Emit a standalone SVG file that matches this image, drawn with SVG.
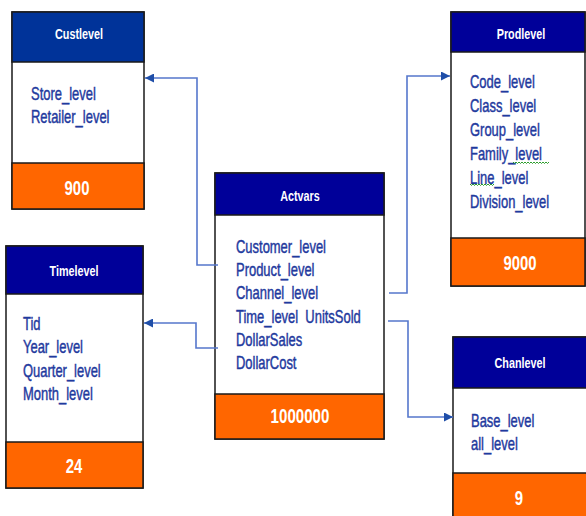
<svg xmlns="http://www.w3.org/2000/svg" width="586" height="516" viewBox="0 0 586 516">
<style>
.box{fill:#ffffff;stroke:#1a1a1a;stroke-width:1.5}
.hdr{fill:#000099;stroke:#1a1a1a;stroke-width:1.5}
.ftr{fill:#ff6600;stroke:#1a1a1a;stroke-width:1.5}
.title{font-family:"Liberation Sans",Arial,sans-serif;font-size:15px;font-weight:bold;fill:#ffffff;text-anchor:middle}
.num{font-family:"Liberation Sans",Arial,sans-serif;font-size:21px;font-weight:bold;fill:#ffffff;text-anchor:middle}
.item{font-family:"Liberation Sans",Arial,sans-serif;font-size:18px;fill:#1f3a9e;stroke:#1f3a9e;stroke-width:0.45;white-space:pre}
.conn{fill:none;stroke:#5577cc;stroke-width:1.6}
.sq{fill:none;stroke:#2e9e2e;stroke-width:1}
</style>
<defs>
<marker id="arr" viewBox="0 0 10 10" refX="10" refY="5" markerWidth="9" markerHeight="9" markerUnits="userSpaceOnUse" orient="auto">
<path d="M0,0 L10,5 L0,10 z" fill="#1f4ea8"/>
</marker>
</defs>
<rect width="586" height="516" fill="#ffffff"/>

<g id="custlevel">
<rect class="box" x="12" y="12" width="132" height="197"/>
<rect class="hdr" x="12" y="12" width="132" height="50" style="fill:#003399"/>
<rect class="ftr" x="12" y="163" width="132" height="46"/>
<text class="title" transform="translate(79,39) scale(0.72,1)">Custlevel</text>
<g transform="translate(31,0) scale(0.72,1)">
<text class="item" y="100">Store_level</text>
<text class="item" y="123">Retailer_level</text>
</g>
<text class="num" transform="translate(77,195) scale(0.71,1)">900</text>
</g>

<g id="timelevel">
<rect class="box" x="6" y="246" width="137" height="242"/>
<rect class="hdr" x="6" y="246" width="137" height="48"/>
<rect class="ftr" x="6" y="442" width="137" height="46"/>
<text class="title" transform="translate(74,276) scale(0.72,1)">Timelevel</text>
<g transform="translate(23,0) scale(0.72,1)">
<text class="item" y="330">Tid</text>
<text class="item" y="353">Year_level</text>
<text class="item" y="377">Quarter_level</text>
<text class="item" y="400">Month_level</text>
</g>
<text class="num" transform="translate(74,473) scale(0.71,1)">24</text>
</g>

<g id="actvars">
<rect class="box" x="215" y="173" width="169" height="266"/>
<rect class="hdr" x="215" y="173" width="169" height="42"/>
<rect class="ftr" x="215" y="394" width="169" height="45"/>
<text class="title" transform="translate(300,201) scale(0.72,1)">Actvars</text>
<g transform="translate(236,0) scale(0.72,1)">
<text class="item" y="253">Customer_level</text>
<text class="item" y="276">Product_level</text>
<text class="item" y="299">Channel_level</text>
<text class="item" y="323">Time_level  UnitsSold</text>
<text class="item" y="346">DollarSales</text>
<text class="item" y="369">DollarCost</text>
</g>
<text class="num" transform="translate(300,423) scale(0.72,1)">1000000</text>
</g>

<g id="prodlevel">
<rect class="box" x="451" y="12" width="134" height="274"/>
<rect class="hdr" x="451" y="12" width="134" height="40"/>
<rect class="ftr" x="451" y="238" width="134" height="48"/>
<text class="title" transform="translate(521,39) scale(0.72,1)">Prodlevel</text>
<g transform="translate(470,0) scale(0.72,1)">
<text class="item" y="88">Code_level</text>
<text class="item" y="112">Class_level</text>
<text class="item" y="136">Group_level</text>
<text class="item" y="160">Family_level</text>
<text class="item" y="184">Line_level</text>
<text class="item" y="208">Division_level</text>
</g>
<path class="sq" d="M513,162 l1.5,1.5 l1.5,-1.5 l1.5,1.5 l1.5,-1.5 l1.5,1.5 l1.5,-1.5 l1.5,1.5 l1.5,-1.5 l1.5,1.5 l1.5,-1.5 l1.5,1.5 l1.5,-1.5 l1.5,1.5 l1.5,-1.5 l1.5,1.5 l1.5,-1.5 l1.5,1.5 l1.5,-1.5 l1.5,1.5 l1.5,-1.5 l1.5,1.5 l1.5,-1.5 l1.5,1.5 l1.5,-1.5"/>
<path class="sq" d="M470,184 l1.5,1.5 l1.5,-1.5 l1.5,1.5 l1.5,-1.5 l1.5,1.5 l1.5,-1.5 l1.5,1.5 l1.5,-1.5 l1.5,1.5 l1.5,-1.5 l1.5,1.5 l1.5,-1.5 l1.5,1.5 l1.5,-1.5 l1.5,1.5 l1.5,-1.5"/>
<text class="num" transform="translate(520,270) scale(0.71,1)">9000</text>
</g>

<g id="chanlevel">
<rect class="box" x="453" y="337" width="140" height="185"/>
<rect class="hdr" x="453" y="337" width="140" height="51"/>
<rect class="ftr" x="453" y="473" width="140" height="49"/>
<text class="title" transform="translate(520,368) scale(0.72,1)">Chanlevel</text>
<g transform="translate(471,0) scale(0.72,1)">
<text class="item" y="427">Base_level</text>
<text class="item" y="450">all_level</text>
</g>
<text class="num" transform="translate(519,505) scale(0.71,1)">9</text>
</g>

<g id="connectors">
<path class="conn" d="M218,265 H197 V78 H145" marker-end="url(#arr)"/>
<path class="conn" d="M218,348 H196 V323 H144" marker-end="url(#arr)"/>
<path class="conn" d="M389,293 H407 V76 H450" marker-end="url(#arr)"/>
<path class="conn" d="M388,321 H408 V417 H453" marker-end="url(#arr)"/>
</g>
</svg>
